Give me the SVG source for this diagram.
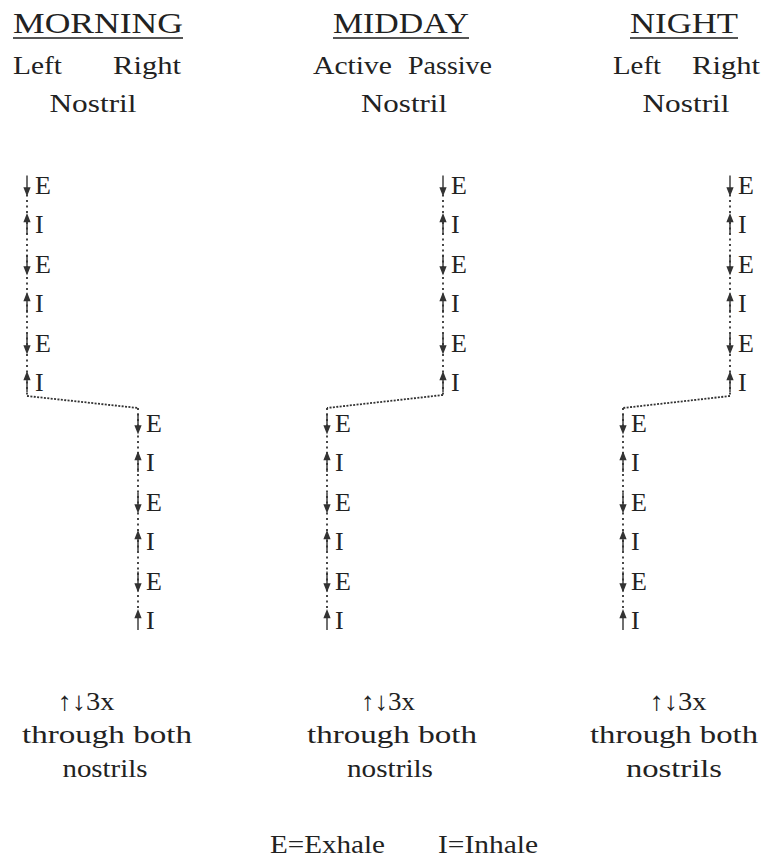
<svg xmlns="http://www.w3.org/2000/svg" width="764" height="860" viewBox="0 0 764 860" font-family="'Liberation Serif', 'DejaVu Serif', serif">
<style>
text{font-family:'Liberation Serif','DejaVu Serif','Noto Serif',serif;fill:#222;font-size:26px}
.h{font-size:29px}
.c{text-anchor:middle}
.ul{stroke:#555;stroke-width:2}
.dv{fill:none;stroke:#333;stroke-width:1.8;stroke-dasharray:2 3.5}
.dg{fill:none;stroke:#333;stroke-width:1.8;stroke-dasharray:2 1.4}
.ar{fill:#333;stroke:#333;stroke-width:1.4}
</style>
<defs>
<path id="dn" d="M0,-9.5 V4 M-2.6,3 L0,9.5 L2.6,3 Z"/>
<path id="up" d="M0,9.5 V-4 M-2.6,-3 L0,-9.5 L2.6,-3 Z"/>
</defs>
<rect width="764" height="860" fill="#fff"/>

<g id="head-morning">
<text class="h c" x="98" y="33" textLength="170" lengthAdjust="spacingAndGlyphs">MORNING</text>
<line class="ul" x1="13" y1="38" x2="183" y2="38"/>
<text x="13" y="74" textLength="49" lengthAdjust="spacingAndGlyphs">Left</text>
<text x="113" y="74" textLength="68" lengthAdjust="spacingAndGlyphs">Right</text>
<text class="c" x="93" y="112" textLength="87" lengthAdjust="spacingAndGlyphs">Nostril</text>
</g>
<g id="head-midday">
<text class="h c" x="401" y="33" textLength="136" lengthAdjust="spacingAndGlyphs">MIDDAY</text>
<line class="ul" x1="333" y1="38" x2="469" y2="38"/>
<text x="313" y="74" textLength="79" lengthAdjust="spacingAndGlyphs">Active</text>
<text x="408" y="74" textLength="84" lengthAdjust="spacingAndGlyphs">Passive</text>
<text class="c" x="404" y="112" textLength="86" lengthAdjust="spacingAndGlyphs">Nostril</text>
</g>
<g id="head-night">
<text class="h c" x="684" y="33" textLength="108" lengthAdjust="spacingAndGlyphs">NIGHT</text>
<line class="ul" x1="630" y1="38" x2="738" y2="38"/>
<text x="613" y="74" textLength="48" lengthAdjust="spacingAndGlyphs">Left</text>
<text x="692" y="74" textLength="68" lengthAdjust="spacingAndGlyphs">Right</text>
<text class="c" x="686" y="112" textLength="87" lengthAdjust="spacingAndGlyphs">Nostril</text>
</g>

<g id="connectors">
<path class="dv" d="M27,194.5 V396"/>
<path class="dg" d="M27,396 L138,408"/>
<path class="dv" d="M138,408 V611"/>
<path class="dv" d="M443,194.5 V395"/>
<path class="dg" d="M443,395 L327,408"/>
<path class="dv" d="M327,408 V611"/>
<path class="dv" d="M730,194.5 V396"/>
<path class="dg" d="M730,396 L623,408"/>
<path class="dv" d="M623,408 V611"/>
</g>

<g id="morning-left">
<use class="ar" href="#dn" x="27" y="185"/><text x="35" y="193.5">E</text>
<use class="ar" href="#up" x="27" y="224.5"/><text x="35" y="233">I</text>
<use class="ar" href="#dn" x="27" y="264"/><text x="35" y="272.5">E</text>
<use class="ar" href="#up" x="27" y="303.5"/><text x="35" y="312">I</text>
<use class="ar" href="#dn" x="27" y="343"/><text x="35" y="351.5">E</text>
<use class="ar" href="#up" x="27" y="382.5"/><text x="35" y="391">I</text>
</g>
<g id="morning-right">
<use class="ar" href="#dn" x="138" y="423"/><text x="146" y="431.5">E</text>
<use class="ar" href="#up" x="138" y="462.5"/><text x="146" y="471">I</text>
<use class="ar" href="#dn" x="138" y="502"/><text x="146" y="510.5">E</text>
<use class="ar" href="#up" x="138" y="541.5"/><text x="146" y="550">I</text>
<use class="ar" href="#dn" x="138" y="581"/><text x="146" y="589.5">E</text>
<use class="ar" href="#up" x="138" y="620.5"/><text x="146" y="629">I</text>
</g>
<g id="midday-passive">
<use class="ar" href="#dn" x="443" y="185"/><text x="451" y="193.5">E</text>
<use class="ar" href="#up" x="443" y="224.5"/><text x="451" y="233">I</text>
<use class="ar" href="#dn" x="443" y="264"/><text x="451" y="272.5">E</text>
<use class="ar" href="#up" x="443" y="303.5"/><text x="451" y="312">I</text>
<use class="ar" href="#dn" x="443" y="343"/><text x="451" y="351.5">E</text>
<use class="ar" href="#up" x="443" y="382.5"/><text x="451" y="391">I</text>
</g>
<g id="midday-active">
<use class="ar" href="#dn" x="327" y="423"/><text x="335" y="431.5">E</text>
<use class="ar" href="#up" x="327" y="462.5"/><text x="335" y="471">I</text>
<use class="ar" href="#dn" x="327" y="502"/><text x="335" y="510.5">E</text>
<use class="ar" href="#up" x="327" y="541.5"/><text x="335" y="550">I</text>
<use class="ar" href="#dn" x="327" y="581"/><text x="335" y="589.5">E</text>
<use class="ar" href="#up" x="327" y="620.5"/><text x="335" y="629">I</text>
</g>
<g id="night-right">
<use class="ar" href="#dn" x="730" y="185"/><text x="738" y="193.5">E</text>
<use class="ar" href="#up" x="730" y="224.5"/><text x="738" y="233">I</text>
<use class="ar" href="#dn" x="730" y="264"/><text x="738" y="272.5">E</text>
<use class="ar" href="#up" x="730" y="303.5"/><text x="738" y="312">I</text>
<use class="ar" href="#dn" x="730" y="343"/><text x="738" y="351.5">E</text>
<use class="ar" href="#up" x="730" y="382.5"/><text x="738" y="391">I</text>
</g>
<g id="night-left">
<use class="ar" href="#dn" x="623" y="423"/><text x="631" y="431.5">E</text>
<use class="ar" href="#up" x="623" y="462.5"/><text x="631" y="471">I</text>
<use class="ar" href="#dn" x="623" y="502"/><text x="631" y="510.5">E</text>
<use class="ar" href="#up" x="623" y="541.5"/><text x="631" y="550">I</text>
<use class="ar" href="#dn" x="623" y="581"/><text x="631" y="589.5">E</text>
<use class="ar" href="#up" x="623" y="620.5"/><text x="631" y="629">I</text>
</g>

<g id="foot-morning">
<text class="c" x="86" y="710" textLength="57" lengthAdjust="spacingAndGlyphs">↑↓3x</text>
<text class="c" x="107" y="743" textLength="170" lengthAdjust="spacingAndGlyphs">through both</text>
<text class="c" x="105" y="777" textLength="85" lengthAdjust="spacingAndGlyphs">nostrils</text>
</g>
<g id="foot-midday">
<text class="c" x="388" y="710" textLength="54" lengthAdjust="spacingAndGlyphs">↑↓3x</text>
<text class="c" x="392" y="743" textLength="170" lengthAdjust="spacingAndGlyphs">through both</text>
<text class="c" x="390" y="777" textLength="86" lengthAdjust="spacingAndGlyphs">nostrils</text>
</g>
<g id="foot-night">
<text class="c" x="678" y="710" textLength="57" lengthAdjust="spacingAndGlyphs">↑↓3x</text>
<text class="c" x="674" y="743" textLength="168" lengthAdjust="spacingAndGlyphs">through both</text>
<text class="c" x="674" y="777" textLength="96" lengthAdjust="spacingAndGlyphs">nostrils</text>
</g>
<g id="legend">
<text x="270" y="853" textLength="115" lengthAdjust="spacingAndGlyphs">E=Exhale</text>
<text x="438" y="853" textLength="100" lengthAdjust="spacingAndGlyphs">I=Inhale</text>
</g>
</svg>
